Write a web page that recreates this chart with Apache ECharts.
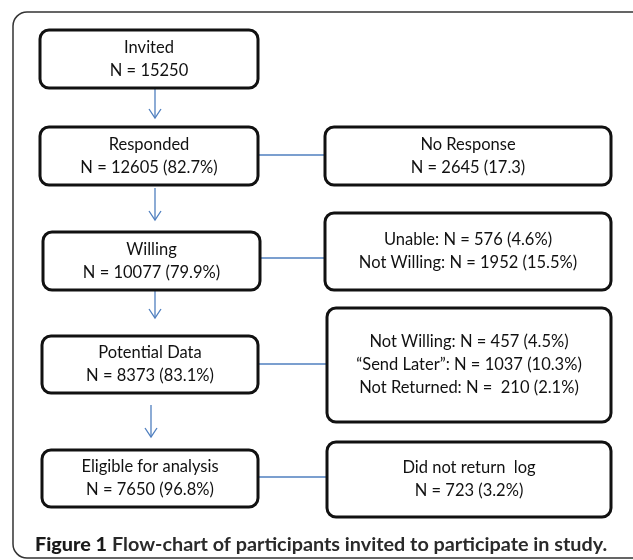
<!DOCTYPE html>
<html>
<head>
<meta charset="utf-8">
<script src="https://cdn.jsdelivr.net/npm/echarts@6/dist/echarts.min.js"></script>
<style>
  html, body { margin: 0; padding: 0; background: #fff; }
  #flow_chart { width: 633px; height: 560px; }
</style>
</head>
<body>
<div id="flow_chart"></div>
<script>
// stages down the left column
var stageNames = ['Invited', 'Responded', 'Willing', 'Potential Data', 'Eligible for analysis'];
var stageCounts = [15250, 12605, 10077, 8373, 7650];
var stagePercents = ['', '82.7%', '79.9%', '83.1%', '96.8%'];

// drop-outs on the right, one list per stage
var exitLines = [
  [],
  ['No Response', 'N = 2645 (17.3)'],
  ['Unable: N = 576 (4.6%)', 'Not Willing: N = 1952 (15.5%)'],
  ['Not Willing: N = 457 (4.5%)', '\u201cSend Later\u201d: N = 1037 (10.3%)', 'Not Returned: N =  210 (2.1%)'],
  ['Did not return  log', 'N = 723 (3.2%)']
];

var captionLabel = 'Figure 1';
var captionText = 'Flow-chart of participants invited to participate in study.';

// layout (axis units = page pixels)
var leftCol = [[40, 258], [40, 258], [43, 260], [42, 258], [42, 258]];
var leftRows = [[30, 88], [127, 185], [232, 290], [336, 393], [450, 507]];
var rightCol = [[325, 611], [325, 611], [327, 611], [327, 611]];
var rightRows = [[127, 185], [213, 290], [308, 422], [442, 517]];
var arrowX = [155, 155, 155, 151];
var arrowSpan = [[88, 118], [188, 220], [290, 318], [405, 437]];
var linkY = [155, 258, 364, 477];

var boxes = [];
stageNames.forEach(function (name, i) {
  var second = 'N = ' + stageCounts[i] + (stagePercents[i] ? ' (' + stagePercents[i] + ')' : '');
  boxes.push({
    value: [leftCol[i][0], leftRows[i][0], leftCol[i][1], leftRows[i][1]],
    lines: [name, second]
  });
});
exitLines.slice(1).forEach(function (lines, j) {
  boxes.push({
    value: [rightCol[j][0], rightRows[j][0], rightCol[j][1], rightRows[j][1]],
    lines: lines
  });
});

var connectors = [];
arrowSpan.forEach(function (s, i) {
  connectors.push({ value: [arrowX[i], s[0], arrowX[i], s[1]], arrow: true });
});
linkY.forEach(function (y, i) {
  connectors.push({ value: [leftCol[i + 1][1], y, rightCol[i][0], y], arrow: false });
});

var chartDom = document.getElementById('flow_chart');
var chart = echarts.init(chartDom, null, { renderer: 'canvas' });

function renderBox(params, api) {
  var b = boxes[params.dataIndex];
  var p0 = api.coord([b.value[0], b.value[1]]);
  var p1 = api.coord([b.value[2], b.value[3]]);
  var cx = (p0[0] + p1[0]) / 2;
  var cy = (p0[1] + p1[1]) / 2;
  var n = b.lines.length;
  var lh = 23;
  var children = [{
    type: 'rect',
    shape: { x: p0[0], y: p0[1], width: p1[0] - p0[0], height: p1[1] - p0[1], r: 9 },
    style: { fill: '#fff', stroke: '#111', lineWidth: 3 }
  }];
  b.lines.forEach(function (t, k) {
    children.push({
      type: 'text',
      style: {
        text: t,
        x: cx,
        y: cy + (k - (n - 1) / 2) * lh,
        textAlign: 'center',
        textVerticalAlign: 'middle',
        fill: '#111',
        fontSize: 16.5,
        fontFamily: 'Lato'
      }
    });
  });
  return { type: 'group', children: children };
}

function renderConnector(params, api) {
  var c = connectors[params.dataIndex];
  var a = api.coord([c.value[0], c.value[1]]);
  var b = api.coord([c.value[2], c.value[3]]);
  var lineStyle = { stroke: '#4f7fbf', lineWidth: 1.3, fill: 'none' };
  var children = [{
    type: 'line',
    shape: { x1: a[0], y1: a[1], x2: b[0], y2: b[1] },
    style: lineStyle
  }];
  if (c.arrow) {
    children.push({
      type: 'polyline',
      shape: { points: [[b[0] - 6, b[1] - 9], [b[0], b[1]], [b[0] + 6, b[1] - 9]] },
      style: lineStyle
    });
  }
  return { type: 'group', children: children };
}

var option = {
  animation: false,
  grid: { left: 0, right: 0, top: 0, bottom: 0 },
  xAxis: { type: 'value', min: 0, max: 633, show: false },
  yAxis: { type: 'value', min: 0, max: 560, inverse: true, show: false },
  title: {
    text: '{b|' + captionLabel + '} {n|' + captionText + '}',
    left: 30,
    top: 530,
    textStyle: {
      rich: {
        b: { fontFamily: 'Lato', fontSize: 19.8, fontWeight: 900, color: '#1a1a1a' },
        n: { fontFamily: 'Lato', fontSize: 19.8, fontWeight: 'bold', color: '#2a2a2a' }
      }
    }
  },
  graphic: [{
    type: 'rect',
    shape: { x: 13, y: 12, width: 700, height: 546, r: 14 },
    style: { fill: 'none', stroke: '#333', lineWidth: 1.5 },
    z: -1
  }],
  series: [{
    type: 'custom',
    renderItem: renderConnector,
    encode: { x: [0, 2], y: [1, 3] },
    data: connectors.map(function (c) { return c.value; }),
    z: 1
  }, {
    type: 'custom',
    renderItem: renderBox,
    encode: { x: [0, 2], y: [1, 3] },
    data: boxes.map(function (b) { return b.value; }),
    z: 2
  }]
};

chart.setOption(option);
window.addEventListener('resize', chart.resize);
</script>
</body>
</html>
